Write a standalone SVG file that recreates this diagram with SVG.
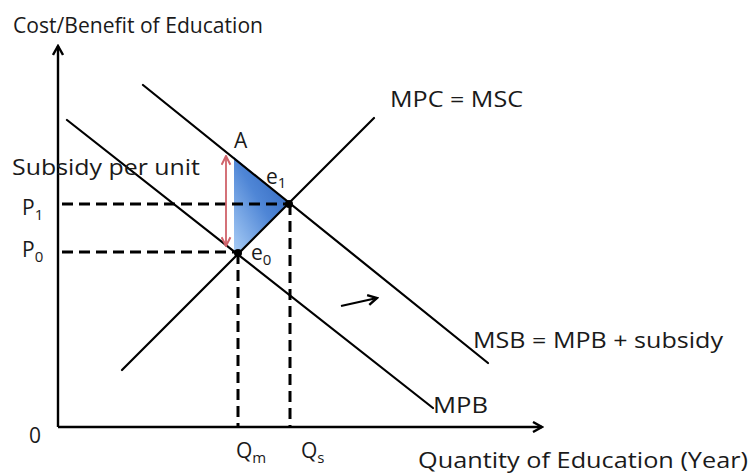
<svg xmlns="http://www.w3.org/2000/svg" width="753" height="474" viewBox="0 0 753 474">
<style>
text{font-family:"Open Sans","Liberation Sans",Arial,sans-serif;fill:#1a1a1a;font-size:21px}
.sub{font-size:15px}
.curve{stroke:#000;stroke-width:2.2;fill:none;stroke-linecap:round}
.axis{stroke:#000;stroke-width:2.4;fill:none}
.dash{stroke:#000;stroke-width:3;fill:none;stroke-dasharray:11 6}
</style>
<defs>
<marker id="ah" viewBox="0 0 12 12" refX="10" refY="6" markerWidth="12" markerHeight="12" markerUnits="userSpaceOnUse" orient="auto">
<path d="M1,1 L10,6 L1,11" fill="none" stroke="#000" stroke-width="2.4"/>
</marker>
<marker id="rh" viewBox="0 0 10 10" refX="9" refY="5" markerWidth="11" markerHeight="11" markerUnits="userSpaceOnUse" orient="auto-start-reverse">
<path d="M1,1 L9,5 L1,9" fill="none" stroke="#d0626a" stroke-width="1.8"/>
</marker>
<linearGradient id="bg" x1="1" y1="0" x2="0" y2="1">
<stop offset="0" stop-color="#2a5fb8"/>
<stop offset="0.5" stop-color="#4f86d6"/>
<stop offset="1" stop-color="#a9cdf6"/>
</linearGradient>
</defs>
<g id="shade">
<polygon points="234,157 289,203 238,253 234,250" fill="url(#bg)"/>
</g>
<g id="connectors">
<line class="axis" x1="58" y1="427" x2="58" y2="46" marker-end="url(#ah)"/>
<line class="axis" x1="58" y1="427" x2="542" y2="427" marker-end="url(#ah)"/>
<line class="dash" x1="62" y1="204" x2="289" y2="204"/>
<line class="dash" x1="62" y1="252" x2="238" y2="252"/>
<line class="dash" x1="238" y1="253" x2="238" y2="427"/>
<line class="dash" x1="290" y1="204" x2="290" y2="427"/>
<line class="curve" x1="122" y1="370" x2="374" y2="118"/>
<line class="curve" x1="143" y1="85" x2="488" y2="363"/>
<line class="curve" x1="67" y1="120" x2="433" y2="408"/>
<line x1="226" y1="156" x2="226" y2="246" stroke="#d0626a" stroke-width="1.8" marker-start="url(#rh)" marker-end="url(#rh)"/>
<line x1="341" y1="306" x2="377" y2="298" stroke="#000" stroke-width="2.2" marker-end="url(#ah)"/>
</g>
<g id="e0"><circle cx="238" cy="253" r="4" fill="#000"/>
<text x="251" y="260">e<tspan class="sub" dy="5">0</tspan></text></g>
<g id="e1"><circle cx="289" cy="204" r="4" fill="#000"/>
<text x="266" y="184">e<tspan class="sub" dy="4">1</tspan></text></g>
<g id="labels">
<text x="13" y="33" textLength="250" lengthAdjust="spacingAndGlyphs">Cost/Benefit of Education</text>
<text x="418" y="468" textLength="330" lengthAdjust="spacingAndGlyphs">Quantity of Education (Year)</text>
<text x="390" y="107" textLength="133" lengthAdjust="spacingAndGlyphs">MPC = MSC</text>
<text x="473" y="348" textLength="250" lengthAdjust="spacingAndGlyphs">MSB = MPB + subsidy</text>
<text x="433" y="413" textLength="55" lengthAdjust="spacingAndGlyphs">MPB</text>
<text x="12" y="175" textLength="188" lengthAdjust="spacingAndGlyphs">Subsidy per unit</text>
<text x="234" y="148">A</text>
<text x="22" y="215">P<tspan class="sub" dy="5">1</tspan></text>
<text x="22" y="257">P<tspan class="sub" dy="5">0</tspan></text>
<text x="29" y="443">0</text>
<text x="236" y="458">Q<tspan class="sub" dy="5">m</tspan></text>
<text x="301" y="458">Q<tspan class="sub" dy="5">s</tspan></text>
</g>
</svg>
